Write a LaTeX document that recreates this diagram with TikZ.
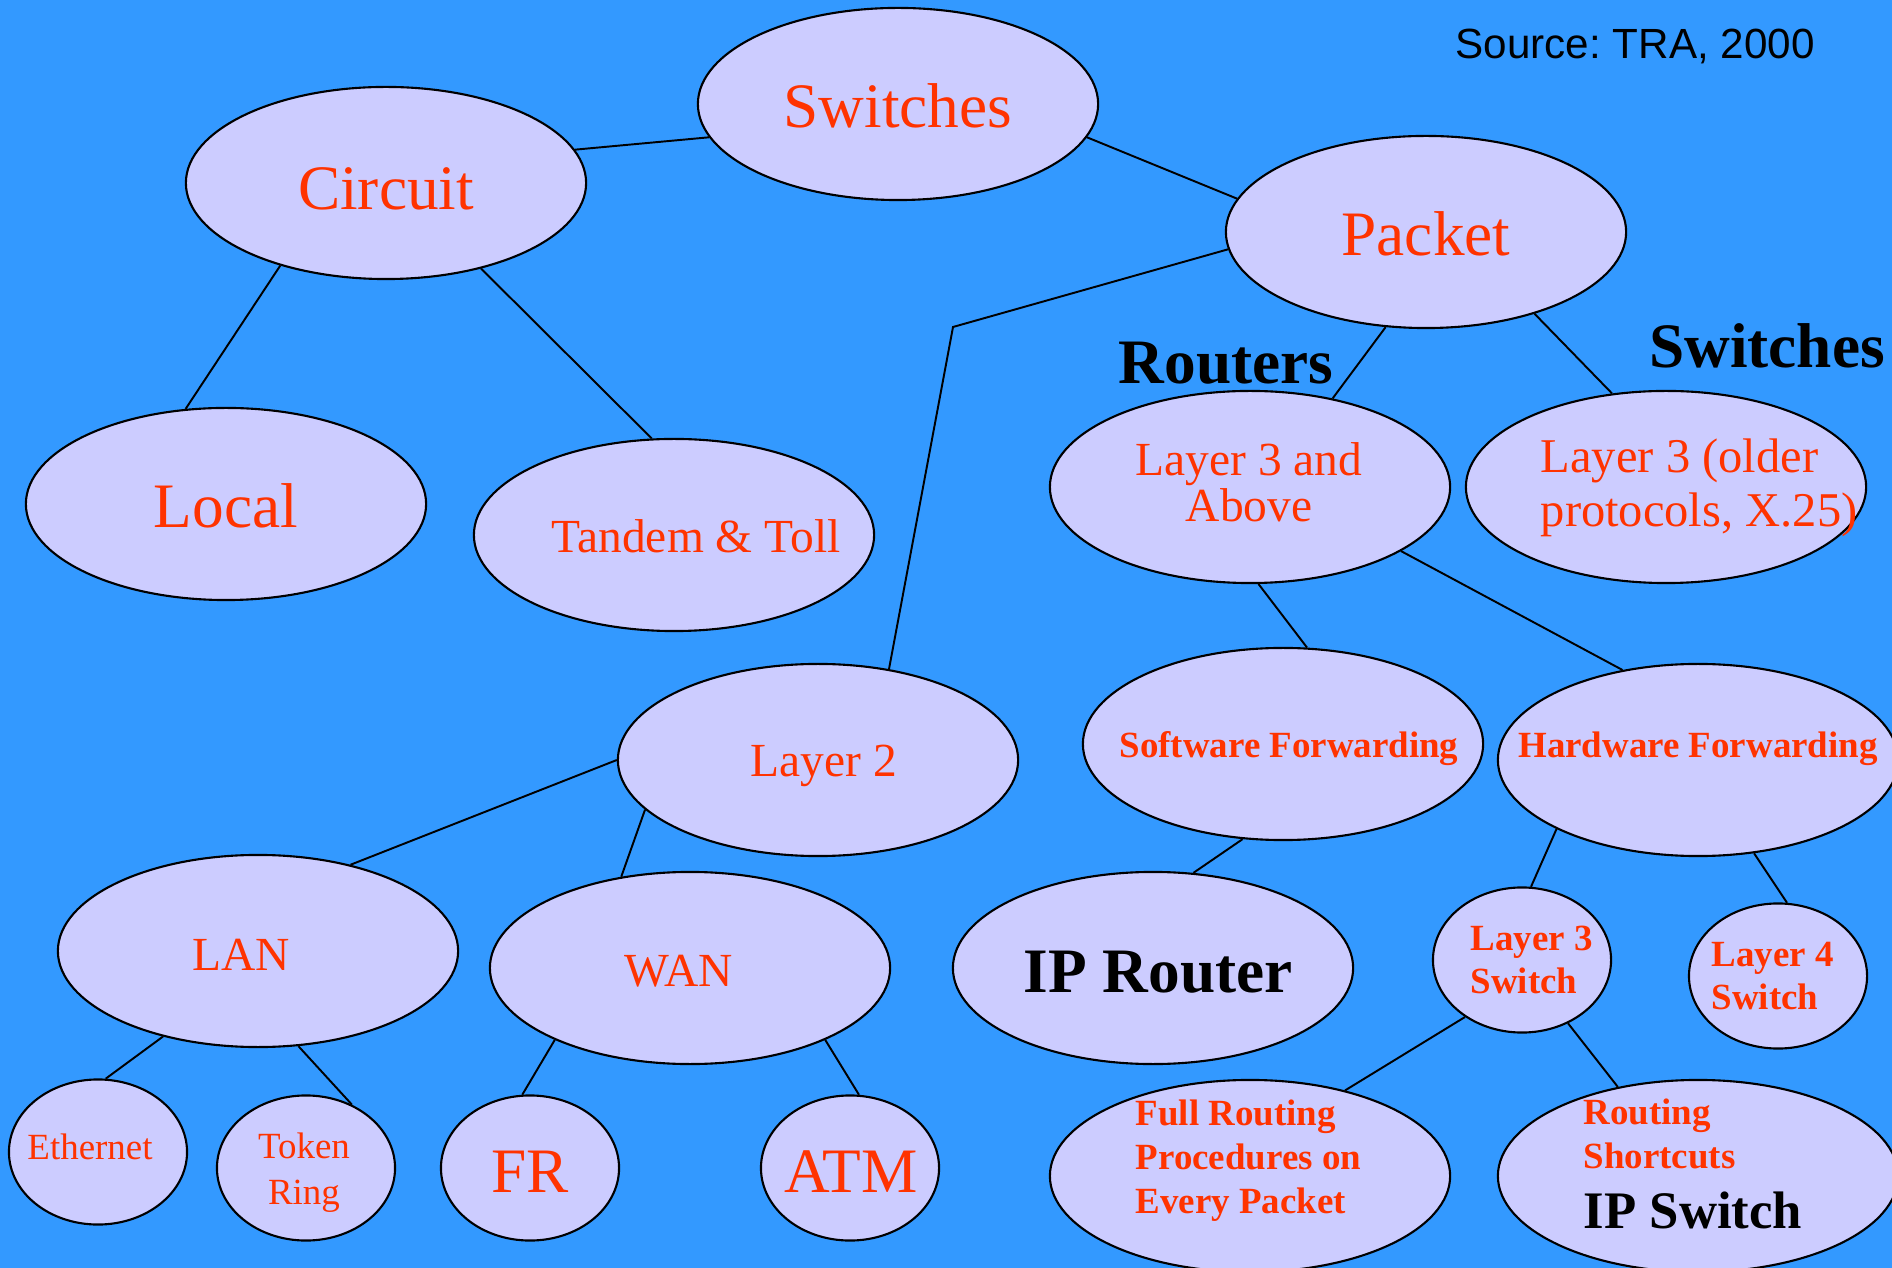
\documentclass[tikz,border=0pt]{standalone}
\usepackage{fontspec}
\setmainfont{Liberation Serif}
\newfontfamily\arialfont{Liberation Sans}
\usetikzlibrary{shapes.geometric}
\definecolor{bg}{HTML}{3399FF}
\definecolor{bubble}{HTML}{CCCCFF}
\definecolor{redtxt}{HTML}{FF3300}
\frenchspacing

\begin{document}
\begin{tikzpicture}[x=0.01cm,y=-0.01cm,
  bub/.style={ellipse, draw=black, line width=0.6pt, fill=bubble, inner sep=0pt,
              minimum width=4cm, minimum height=1.92cm},
  smallbub/.style={bub, minimum width=1.78cm, minimum height=1.45cm},
  link/.style={draw=black, line width=0.55pt},
  txt/.style={text=redtxt, inner sep=0pt, anchor=base},
  bigtxt/.style={txt, font=\fontsize{18}{20}\selectfont},
  midtxt/.style={txt, font=\fontsize{13.5}{11.95}\selectfont},
  smalltxt/.style={txt, font=\fontsize{10.5}{12.8}\selectfont},
  boldtxt/.style={txt, font=\bfseries\fontsize{10.5}{12.4}\selectfont},
  headtxt/.style={txt, text=black, font=\bfseries\fontsize{18}{20}\selectfont},
]
\useasboundingbox (0,0) rectangle (1892,1268);
\clip (0,0) rectangle (1892,1268);
\fill[bg] (0,0) rectangle (1892,1268);

% bubbles
\node[bub] (switches) at (898,104) {};
\node[bub] (circuit) at (386,183) {};
\node[bub] (packet) at (1426,232) {};
\node[bub] (local) at (226,504) {};
\node[bub] (tandem) at (674,535) {};
\node[bub] (l3above) at (1250,487) {};
\node[bub] (l3older) at (1666,487) {};
\node[bub] (layer2) at (818,760) {};
\node[bub] (software) at (1283,744) {};
\node[bub] (hardware) at (1698,760) {};
\node[bub] (lan) at (258,951) {};
\node[bub] (wan) at (690,968) {};
\node[bub] (iprouter) at (1153,968) {};
\node[smallbub] (l3switch) at (1522,960) {};
\node[smallbub] (l4switch) at (1778,976) {};
\node[smallbub] (ethernet) at (98,1152) {};
\node[smallbub] (token) at (306,1168) {};
\node[smallbub] (fr) at (530,1168) {};
\node[smallbub] (atm) at (850,1168) {};
\node[bub] (fullrouting) at (1250,1176) {};
\node[bub] (shortcuts) at (1698,1176) {};

% connectors
\coordinate (bend) at (953,327);
\draw[link] (circuit.10) -- (switches.190);
\draw[link] (switches.-10) -- (packet.170);
\draw[link] (circuit.-142) -- (local.113);
\draw[link] (circuit.-42) -- (tandem.103);
\draw[link] (packet.-175) -- (bend) -- (layer2.52);
\draw[link] (packet.-113) -- (l3above.47);
\draw[link] (packet.-37) -- (l3older.120);
\draw[link] (l3above.-85) -- (software.76);
\draw[link] (l3above.-23) -- (hardware.130);
\draw[link] (layer2.180) -- (lan.43);
\draw[link] (layer2.-164) -- (wan.127);
\draw[link] (software.-113) -- (iprouter.67);
\draw[link] (hardware.-154) -- (l3switch.83);
\draw[link] (hardware.-59) -- (l4switch.83);
\draw[link] (lan.-138) -- (ethernet.84);
\draw[link] (lan.-67) -- (token.54);
\draw[link] (wan.-152) -- (fr.96);
\draw[link] (wan.-28) -- (atm.83);
\draw[link] (l3switch.-135) -- (fullrouting.42);
\draw[link] (l3switch.-54) -- (shortcuts.132);

% labels (multi-line labels are placed by the baseline of their last line)
\node[bigtxt] (t-switches) at (898,128) {Switches};
\node[bigtxt] (t-circuit) at (386,210) {Circuit};
\node[bigtxt] (t-packet) at (1426,256) {Packet};
\node[bigtxt] (t-local) at (226,528) {Local};
\node[midtxt] (t-tandem) at (696,553) {Tandem \& Toll};
\node[midtxt, align=center] (t-l3above) at (1249,522) {Layer 3 and\\Above};
\node[midtxt, anchor=base west, align=left, font=\fontsize{13.8}{15.6}\selectfont] (t-l3older) at (1540,527) {Layer 3 (older\\protocols, X.25)};
\node[midtxt] (t-layer2) at (824,777) {Layer 2};
\node[boldtxt] (t-software) at (1289,758) {Software Forwarding};
\node[boldtxt] (t-hardware) at (1698,758) {Hardware Forwarding};
\node[midtxt] (t-lan) at (241,970) {LAN};
\node[midtxt] (t-wan) at (679,986) {WAN};
\node[headtxt] (t-iprouter) at (1158,992) {IP Router};
\node[boldtxt, anchor=base west, align=left, font=\bfseries\fontsize{10.5}{12.2}\selectfont] (t-l3switch) at (1470,993) {Layer 3\\Switch};
\node[boldtxt, anchor=base west, align=left, font=\bfseries\fontsize{10.5}{12.2}\selectfont] (t-l4switch) at (1711,1009) {Layer 4\\Switch};
\node[smalltxt] (t-ethernet) at (90,1159) {Ethernet};
\node[smalltxt, align=center] (t-token) at (304,1204) {Token\\Ring};
\node[bigtxt] (t-fr) at (530,1192) {FR};
\node[bigtxt] (t-atm) at (851,1192) {ATM};
\node[boldtxt, anchor=base west, align=left] (t-fullrouting) at (1135,1213) {Full Routing\\Procedures on\\Every Packet};
\node[boldtxt, anchor=base west, align=left] (t-shortcuts) at (1583,1168) {Routing\\Shortcuts};
\node[headtxt, anchor=base west, font=\bfseries\fontsize{15}{17}\selectfont] (t-ipswitch) at (1583,1228) {IP Switch};
\node[headtxt] (t-routers) at (1226,384) {Routers};
\node[headtxt] (t-switchhead) at (1767,368) {Switches};
\node[txt, text=black, anchor=base west, font=\arialfont\fontsize{12}{14}\selectfont] (t-source) at (1455,59) {Source: TRA, 2000};
\end{tikzpicture}
\end{document}
